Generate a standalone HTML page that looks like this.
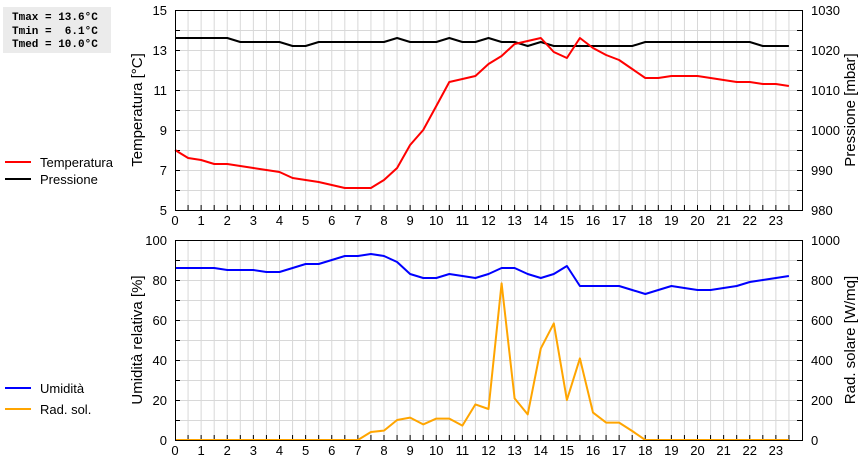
<!DOCTYPE html>
<html><head><meta charset="utf-8"><style>
body{margin:0;background:#fff;width:860px;height:460px;overflow:hidden;font-family:"Liberation Sans",sans-serif}
svg text{font-family:"Liberation Sans",sans-serif}
</style></head><body>
<svg id="c" width="860" height="460" xmlns="http://www.w3.org/2000/svg">
<rect x="3" y="7" width="108" height="46" fill="#ebebeb"/>
<text x="12" y="20" font-family="Liberation Mono,monospace" font-size="11" font-weight="bold" xml:space="preserve" style="font-family:'Liberation Mono',monospace">Tmax = 13.6°C</text>
<text x="12" y="34" font-size="11" font-weight="bold" xml:space="preserve" style="font-family:'Liberation Mono',monospace">Tmin =  6.1°C</text>
<text x="12" y="47" font-size="11" font-weight="bold" xml:space="preserve" style="font-family:'Liberation Mono',monospace">Tmed = 10.0°C</text>
<g>
<line x1="5" y1="162" x2="31" y2="162" stroke="#f00" stroke-width="2"/><text x="40" y="167" font-size="13">Temperatura</text>
<line x1="5" y1="179" x2="31" y2="179" stroke="#000" stroke-width="2"/><text x="40" y="184" font-size="13">Pressione</text>
</g>
<g>
<line x1="5" y1="388" x2="31" y2="388" stroke="#00f" stroke-width="2"/><text x="40" y="393" font-size="13">Umidità</text>
<line x1="5" y1="409" x2="31" y2="409" stroke="#ffa500" stroke-width="2"/><text x="40" y="414" font-size="13">Rad. sol.</text>
</g>
</svg>
<script>
const hours=[0,0.5,1,1.5,2,2.5,3,3.5,4,4.5,5,5.5,6,6.5,7,7.5,8,8.5,9,9.5,10,10.5,11,11.5,12,12.5,13,13.5,14,14.5,15,15.5,16,16.5,17,17.5,18,18.5,19,19.5,20,20.5,21,21.5,22,22.5,23,23.5];
const temperature=[8.0,7.6,7.5,7.3,7.3,7.2,7.1,7.0,6.9,6.6,6.5,6.4,6.25,6.1,6.1,6.1,6.5,7.1,8.25,9.0,10.2,11.4,11.55,11.7,12.3,12.7,13.3,13.45,13.6,12.9,12.6,13.6,13.1,12.75,12.5,12.05,11.6,11.6,11.7,11.7,11.7,11.6,11.5,11.4,11.4,11.3,11.3,11.2];
const pressure=[1023,1023,1023,1023,1023,1022,1022,1022,1022,1021,1021,1022,1022,1022,1022,1022,1022,1023,1022,1022,1022,1023,1022,1022,1023,1022,1022,1021,1022,1021,1021,1021,1021,1021,1021,1021,1022,1022,1022,1022,1022,1022,1022,1022,1022,1021,1021,1021];
const humidity=[86,86,86,86,85,85,85,84,84,86,88,88,90,92,92,93,92,89,83,81,81,83,82,81,83,86,86,83,81,83,87,77,77,77,77,75,73,75,77,76,75,75,76,77,79,80,81,82];
const radiation=[0,0,0,0,0,0,0,0,0,0,0,0,0,0,0,40,47,100,112,78,107,107,72,178,155,783,208,128,458,583,200,408,137,87,87,45,0,0,0,0,0,0,0,0,0,0,0,0];
const xTicks=[0,1,2,3,4,5,6,7,8,9,10,11,12,13,14,15,16,17,18,19,20,21,22,23];
const tempTicks=[5,7,9,11,13,15];
const presTicks=[980,990,1000,1010,1020,1030];
const humTicks=[0,20,40,60,80,100];
const radTicks=[0,200,400,600,800,1000];

const NS="http://www.w3.org/2000/svg";
const svg=document.getElementById('c');
const X0=175,X1=802;
const xs=h=>X0+(X1-X0)*h/24;
function mk(tag,attrs,parent){const e=document.createElementNS(NS,tag);for(const k in attrs)e.setAttribute(k,attrs[k]);(parent||svg).appendChild(e);return e;}
function panel(top,bot,lmin,lmax,rmin,rmax,lt,rt,ltitle,rtitle,series,name){
  const g=mk('g',{});
  
  
  const yl=v=>bot-(bot-top)*(v-lmin)/(lmax-lmin);
  const yr=v=>bot-(bot-top)*(v-rmin)/(rmax-rmin);
  // grid verticals every half hour
  for(let i=1;i<48;i++){const x=xs(i/2);const l=mk('line',{x1:x,x2:x,y1:top,y2:bot,stroke:'#d8d8d8','stroke-width':1},g);
    }
  const step=(lmax-lmin)/10;
  for(let i=1;i<10;i++){const y=Math.round(yl(lmin+i*step))+0.5;const l=mk('line',{x1:X0,x2:X1,y1:y,y2:y,stroke:'#d8d8d8','stroke-width':1},g);
    
    mk('line',{x1:X0,x2:X0+5,y1:y,y2:y,stroke:'#000'},g);mk('line',{x1:X1-5,x2:X1,y1:y,y2:y,stroke:'#000'},g);}
  for(let i=1;i<48;i++){const x=xs(i/2);mk('line',{x1:x,x2:x,y1:bot-5,y2:bot,stroke:'#000'},g);}
  series.forEach(s=>{
    const ys=s.axis==='l'?yl:yr;
    const pts=hours.map((h,i)=>xs(h).toFixed(1)+','+ys(s.data[i]).toFixed(1)).join(' ');
    const p=mk('polyline',{points:pts,fill:'none',stroke:s.color,'stroke-width':2,'stroke-linejoin':'round'},g);
    
    
  });
  const fr=mk('rect',{x:X0+0.5,y:top+0.5,width:X1-X0,height:bot-top,fill:'none',stroke:'#000'},g);
  
  xTicks.forEach(h=>{const t=mk('text',{x:xs(h),y:bot+15,'text-anchor':'middle','font-size':13},g);t.textContent=h;
    });
  lt.forEach(v=>{const t=mk('text',{x:167,y:yl(v)+5,'text-anchor':'end','font-size':13},g);t.textContent=v;
    });
  rt.forEach(v=>{const t=mk('text',{x:811,y:yr(v)+5,'text-anchor':'start','font-size':13},g);t.textContent=v;
    });
  const cy=(top+bot)/2;
  const a=mk('text',{x:0,y:0,'text-anchor':'middle','font-size':15,transform:`translate(142,${cy}) rotate(-90)`},g);a.textContent=ltitle;
  
  const b=mk('text',{x:0,y:0,'text-anchor':'middle','font-size':15,transform:`translate(855,${cy}) rotate(-90)`},g);b.textContent=rtitle;
  
}
panel(10,210,5,15,980,1030,tempTicks,presTicks,'Temperatura [°C]','Pressione [mbar]',
  [{data:pressure,color:'#000',axis:'r',name:'pressure-line'},{data:temperature,color:'#f00',axis:'l',name:'temperature-line'}],'top-chart');
panel(240,440,0,100,0,1000,humTicks,radTicks,'Umidità relativa [%]','Rad. solare [W/mq]',
  [{data:radiation,color:'#ffa500',axis:'r',name:'radiation-line'},{data:humidity,color:'#00f',axis:'l',name:'humidity-line'}],'bottom-chart');
</script>
</body></html>
